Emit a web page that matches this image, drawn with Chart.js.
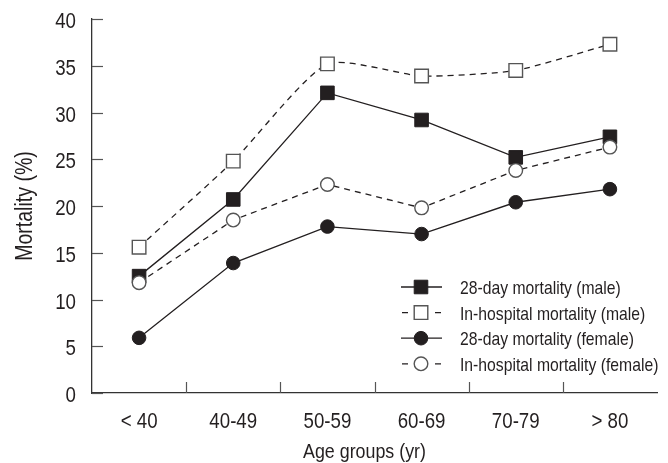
<!DOCTYPE html>
<html>
<head>
<meta charset="utf-8">
<script src="https://cdn.jsdelivr.net/npm/chart.js@4.4.1/dist/chart.umd.min.js"></script>
<style>
  html, body { margin: 0; padding: 0; background: #fff; }
  #wrap { width: 668px; height: 463px; }
</style>
</head>
<body>
<div id="wrap"><canvas id="mortality-chart"></canvas></div>
<script>
        // values
        var ageGroups = ['< 40', '40-49', '50-59', '60-69', '70-79', '> 80'];
        var male28 = [12.5, 20.7, 32.1, 29.2, 25.2, 27.4];
        var maleHospital = [15.6, 24.8, 35.2, 33.9, 34.5, 37.3];
        var female28 = [5.9, 13.9, 17.8, 17.0, 20.4, 21.8];
        var femaleHospital = [11.8, 18.5, 22.3, 19.8, 23.8, 26.3];
        var seriesNames = [
            '28-day mortality (male)',
            'In-hospital mortality (male)',
            '28-day mortality (female)',
            'In-hospital mortality (female)'
        ];
        var xTitle = 'Age groups (yr)';
        var yTitle = 'Mortality (%)';

        var fontFamily = "'Liberation Sans', Arial, sans-serif";
        var ink = '#231f20';

        // no condensed face installed, so squeeze Liberation Sans horizontally
        function narrowText(c, text, x, y, size, align) {
            c.save();
            c.translate(x, y);
            c.scale(0.85, 1);
            c.font = size + 'px ' + fontFamily;
            c.textAlign = align;
            c.textBaseline = 'alphabetic';
            c.fillStyle = ink;
            c.fillText(text, 0, 0);
            c.restore();
        }

        // inward tick marks, tick labels and axis titles
        var axisDecor = {
            id: 'axisDecor',
            afterDraw: function (chart) {
                var c = chart.ctx, x = chart.scales.x, y = chart.scales.y, area = chart.chartArea;
                c.save();
                c.strokeStyle = '#555';
                c.lineWidth = 1.2;
                y.ticks.forEach(function (t) {
                    var py = Math.round(y.getPixelForValue(t.value)) + 0.5;
                    c.beginPath();
                    c.moveTo(area.left, py);
                    c.lineTo(area.left + 11, py);
                    c.stroke();
                    narrowText(c, String(t.value), area.left - 16, py + 8, 22, 'right');
                });
                for (var i = 0; i < ageGroups.length - 1; i++) {
                    var px = Math.round((x.getPixelForValue(i) + x.getPixelForValue(i + 1)) / 2) + 0.5;
                    c.beginPath();
                    c.moveTo(px, area.bottom);
                    c.lineTo(px, area.bottom - 11);
                    c.stroke();
                }
                ageGroups.forEach(function (g, i) {
                    narrowText(c, g, x.getPixelForValue(i), area.bottom + 35, 22, 'center');
                });
                narrowText(c, xTitle, (area.left + area.right) / 2 - 10, area.bottom + 65, 21, 'center');

                c.translate(32, (area.top + area.bottom) / 2);
                c.rotate(-Math.PI / 2);
                narrowText(c, yTitle, 0, 0, 23, 'center');
                c.restore();
            }
        };

        // legend with line sample + marker, inside the plot at lower right
        var lineLegend = {
            id: 'lineLegend',
            afterDraw: function (chart) {
                var c = chart.ctx, area = chart.chartArea;
                var x0 = area.right - 256, x1 = area.right - 215, mx = area.right - 236, tx = area.right - 197;
                c.save();
                chart.data.datasets.forEach(function (ds, i) {
                    var ry = area.top + 268 + i * 25.6;
                    c.strokeStyle = ds.borderColor;
                    c.lineWidth = ds.borderWidth;
                    c.beginPath();
                    if (ds.borderDash) {
                        c.moveTo(x0 + 1, ry); c.lineTo(x0 + 7, ry);
                        c.moveTo(x1 - 7, ry); c.lineTo(x1 - 1, ry);
                    } else {
                        c.moveTo(x0, ry); c.lineTo(x1, ry);
                    }
                    c.stroke();
                    c.fillStyle = ds.pointBackgroundColor;
                    c.strokeStyle = ds.pointBorderColor;
                    c.lineWidth = ds.pointBorderWidth;
                    c.beginPath();
                    if (ds.pointStyle === 'rect') {
                        var s = ds.pointRadius * Math.SQRT1_2;
                        c.rect(mx - s, ry - s, 2 * s, 2 * s);
                    } else {
                        c.arc(mx, ry, ds.pointRadius, 0, Math.PI * 2);
                    }
                    c.fill();
                    c.stroke();
                    narrowText(c, seriesNames[i], tx, ry + 7, 18.5, 'left');
                });
                c.restore();
            }
        };

        var ctx = document.getElementById('mortality-chart').getContext('2d');

        var config = {
            type: 'line',
            data: {
                labels: ageGroups,
                datasets: [{
                    label: seriesNames[0],
                    data: male28,
                    borderColor: ink,
                    borderWidth: 1.3,
                    pointStyle: 'rect',
                    pointRadius: 9.6,
                    pointBackgroundColor: ink,
                    pointBorderColor: ink,
                    pointBorderWidth: 1,
                    order: 2
                }, {
                    label: seriesNames[1],
                    data: maleHospital,
                    borderColor: ink,
                    borderWidth: 1.3,
                    borderDash: [6, 5],
                    tension: 0.2,
                    pointStyle: 'rect',
                    pointRadius: 9.6,
                    pointBackgroundColor: '#fff',
                    pointBorderColor: '#555',
                    pointBorderWidth: 1.4,
                    order: 3
                }, {
                    label: seriesNames[2],
                    data: female28,
                    borderColor: ink,
                    borderWidth: 1.3,
                    pointStyle: 'circle',
                    pointRadius: 6.8,
                    pointBackgroundColor: ink,
                    pointBorderColor: ink,
                    pointBorderWidth: 1,
                    order: 4
                }, {
                    label: seriesNames[3],
                    data: femaleHospital,
                    borderColor: ink,
                    borderWidth: 1.3,
                    borderDash: [6, 5],
                    pointStyle: 'circle',
                    pointRadius: 6.8,
                    pointBackgroundColor: '#fff',
                    pointBorderColor: '#555',
                    pointBorderWidth: 1.4,
                    order: 1
                }]
            },
            options: {
                responsive: true,
                maintainAspectRatio: false,
                animation: false,
                layout: { padding: { top: 19, right: 11, left: 0, bottom: 0 } },
                plugins: {
                    legend: { display: false },
                    tooltip: { enabled: false }
                },
                scales: {
                    x: {
                        offset: true,
                        grid: { display: false, drawTicks: false },
                        border: { display: true, color: '#333', width: 1.3 },
                        ticks: { display: false },
                        afterFit: function (scale) { scale.height = 70; }
                    },
                    y: {
                        min: 0,
                        max: 40,
                        grid: { display: false, drawTicks: false },
                        border: { display: true, color: '#333', width: 1.3 },
                        ticks: { display: false, stepSize: 5 },
                        afterFit: function (scale) { scale.width = 92; }
                    }
                }
            },
            plugins: [axisDecor, lineLegend]
        };
        new Chart(ctx, config);
</script>
</body>
</html>
